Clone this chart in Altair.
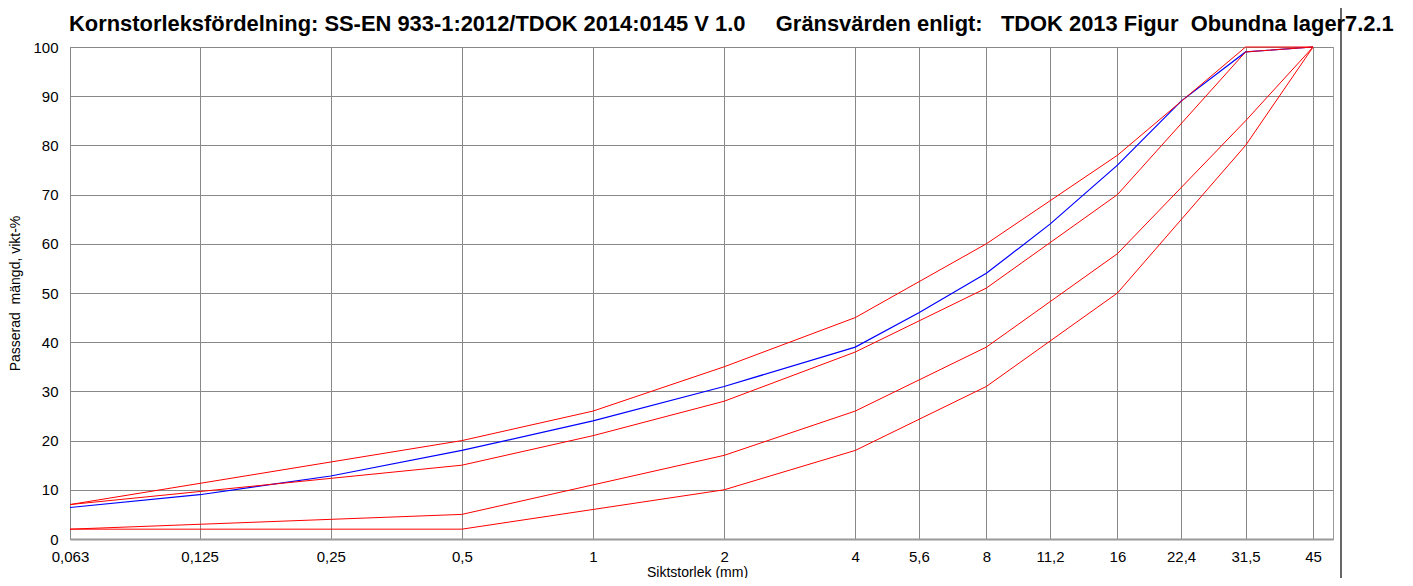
import altair as alt
import pandas as pd

# Sieve sizes (mm) and tick labels
tick_values = [0.063, 0.125, 0.25, 0.5, 1, 2, 4, 5.6, 8, 11.2, 16, 22.4, 31.5, 45]
y_ticks = [0, 10, 20, 30, 40, 50, 60, 70, 80, 90, 100]

# Measured sample (blue)
sample_sizes = [0.063, 0.125, 0.25, 0.5, 1, 2, 4, 5.6, 8, 11.2, 16, 22.4, 31.5, 45]
sample_pct = [6.4, 9.0, 12.8, 18.0, 24, 31, 39, 46, 54, 64, 76, 89, 99, 100]

# Limit curves (red)
limit_sizes = [0.063, 0.5, 1, 2, 4, 8, 16, 31.5, 45]
upper_outer = [7, 20, 26, 35, 45, 60, 78, 100, 100]
upper_inner = [7, 15, 21, 28, 38, 51, 70, 99, 100]
lower_inner = [2, 5, 11, 17, 26, 39, 58, 85, 100]
lower_outer = [2, 2, 6, 10, 18, 31, 50, 80, 100]

rows = []
for s, p in zip(sample_sizes, sample_pct):
    rows.append({"size": s, "pct": p, "series": "Prov"})
for name, vals in [("Övre gräns", upper_outer), ("Övre inre", upper_inner),
                   ("Undre inre", lower_inner), ("Undre gräns", lower_outer)]:
    for s, p in zip(limit_sizes, vals):
        rows.append({"size": s, "pct": p, "series": name})
df = pd.DataFrame(rows)

FONT = "Liberation Sans"
NB = "\u00a0"
title_text = ("Kornstorleksfördelning: SS-EN 933-1:2012/TDOK 2014:0145 V 1.0" + NB * 5 +
              "Gränsvärden enligt:" + NB * 3 + "TDOK 2013 Figur" + NB * 2 + "Obundna lager7.2.1")

x_enc = alt.X(
    "size:Q",
    scale=alt.Scale(type="log", domain=[0.063, 50], nice=False),
    axis=alt.Axis(
        values=tick_values,
        labelExpr="replace(toString(datum.value), '.', ',')",
        title="Siktstorlek (mm)",
        grid=True, gridColor="#888888", gridWidth=1,
        domainColor="#999999", domainWidth=2,
        ticks=False, tickSize=0,
        labelFont=FONT, labelFontSize=15, labelColor="black", labelPadding=10,
        labelFlush=False, labelOverlap=False,
        titleFont=FONT, titleFontSize=14, titleFontWeight="normal", titleColor="black",
        titleX=627, titleY=37, titleBaseline="alphabetic", titleAlign="center",
    ),
)
y_enc = alt.Y(
    "pct:Q",
    scale=alt.Scale(domain=[0, 100], nice=False),
    axis=alt.Axis(
        values=y_ticks,
        title="Passerad" + NB * 2 + "mängd, vikt-%",
        grid=True, gridColor="#888888", gridWidth=1,
        domain=False, ticks=False, tickSize=0,
        labelFont=FONT, labelFontSize=15, labelColor="black", labelPadding=12,
        labelFlush=False,
        titleFont=FONT, titleFontSize=14, titleFontWeight="normal", titleColor="black",
        titleX=-51, titleY=246, titleBaseline="alphabetic", titleAlign="center",
    ),
)

color = alt.Color(
    "series:N",
    scale=alt.Scale(domain=["Prov", "Övre gräns", "Övre inre", "Undre inre", "Undre gräns"],
                    range=["#0000ff", "#ff0000", "#ff0000", "#ff0000", "#ff0000"]),
    legend=None,
)

blue = alt.Chart(df).transform_filter(alt.datum.series == "Prov").mark_line(
    strokeWidth=1.2).encode(x=x_enc, y=y_enc, color=color, detail="series:N")
red = alt.Chart(df).transform_filter(alt.datum.series != "Prov").mark_line(
    strokeWidth=1).encode(x=x_enc, y=y_enc, color=color, detail="series:N")

# outer frame line at the right of the figure
frame = alt.Chart(pd.DataFrame({"k": [0]})).mark_rule(color="black", strokeWidth=1.2).encode(
    x=alt.value(1271), y=alt.value(-47), y2=alt.value(539))

# chart heading as a text mark above the plot area
heading = alt.Chart(pd.DataFrame({"t": [title_text]})).mark_text(
    align="left", baseline="alphabetic", font=FONT, fontSize=21.9, fontWeight="bold",
    color="black").encode(x=alt.value(-1), y=alt.value(-16), text="t:N")

chart = alt.layer(blue, red, frame, heading).properties(
    width=1263, height=492,
    autosize=alt.AutoSizeParams(type="none"),
    padding={"left": 62, "top": 39, "right": 70, "bottom": 39},
).configure_view(stroke="#999999", strokeWidth=1)

chart.save("out.html", embed_options={"renderer": "svg", "actions": False})
